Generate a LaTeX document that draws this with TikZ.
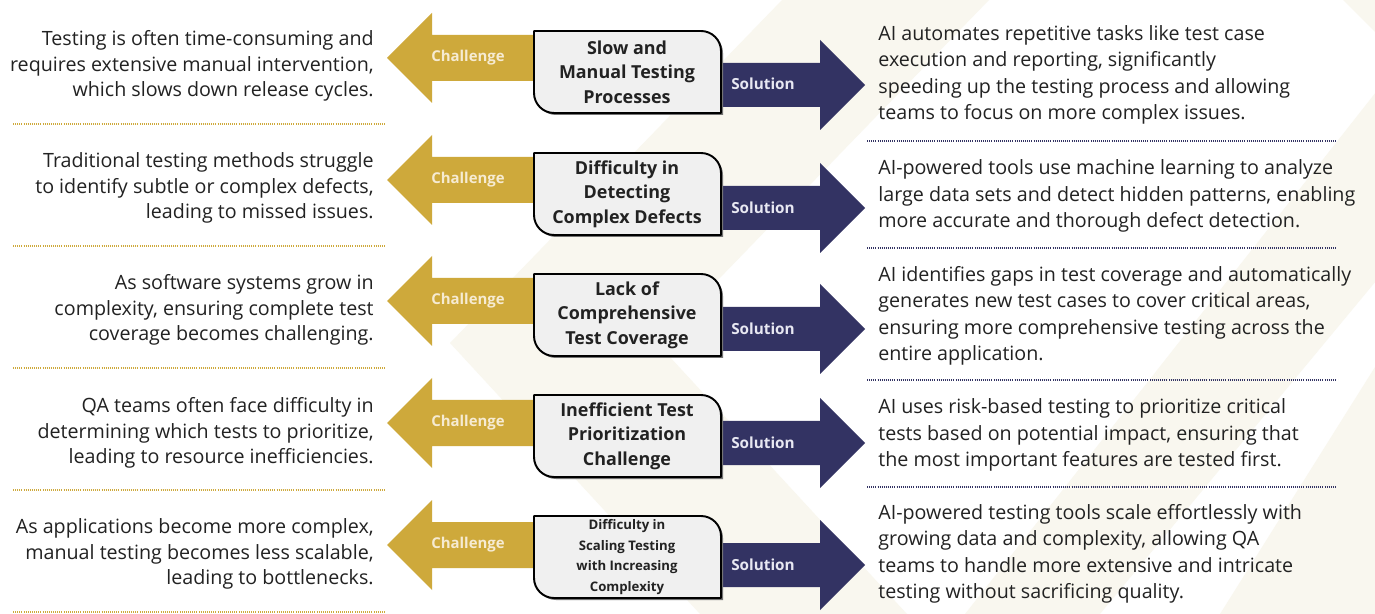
\documentclass[tikz,border=0pt]{standalone}
\usepackage{fontspec}
\setmainfont{Open Sans}
\usetikzlibrary{positioning}
\definecolor{gold}{HTML}{CEA93B}
\definecolor{navy}{HTML}{333363}
\definecolor{cream}{HTML}{F9F7EF}
\definecolor{ink}{HTML}{222222}
\definecolor{boxfill}{HTML}{F0F0F0}
\definecolor{chaltext}{HTML}{F6EBD2}
\definecolor{soltext}{HTML}{E8E8F2}

\begin{document}
\begin{tikzpicture}[x=0.02cm,y=-0.02cm]
\tikzstyle{chal}=[fill=gold]
\tikzstyle{sol}=[fill=navy]
\tikzstyle{qbox}=[draw=black,fill=boxfill,line width=1.1pt,line join=round]
\tikzstyle{qshadow}=[fill=black!55]
\tikzstyle{qtext}=[align=center,inner sep=0pt,text=ink,font=\bfseries\fontsize{10.2}{14}\selectfont]
\tikzstyle{lefttext}=[anchor=east,align=right,inner sep=0pt,text=ink,font=\fontsize{11.2}{14.6}\selectfont]
\tikzstyle{righttext}=[anchor=west,align=left,inner sep=0pt,text=ink,font=\fontsize{11.2}{15.1}\selectfont]
\tikzstyle{challabel}=[text=chaltext,inner sep=0pt,font=\bfseries\fontsize{8.5}{10}\selectfont]
\tikzstyle{sollabel}=[text=soltext,inner sep=0pt,font=\bfseries\fontsize{8.7}{10}\selectfont]
\tikzstyle{golddots}=[draw=gold,line width=0.7pt,dash pattern=on 0.5pt off 0.7pt]
\tikzstyle{navydots}=[draw=navy,line width=0.7pt,dash pattern=on 0.5pt off 0.7pt]

\useasboundingbox (0,0) rectangle (1375,614);
\fill[white] (0,0) rectangle (1375,614);
\begin{scope}
\clip (0,0) rectangle (1375,614);
\fill[cream] (782,0) -- (989,0) -- (657,343) -- (907,614) -- (700,614) -- (450,343) -- cycle;
\fill[cream] (1343,0) -- (1500,0) -- (1560,59) -- (1100,614) -- (965,614) -- (1402,59) -- cycle;
\fill[cream] (1375,367) -- (1375,614) -- (1220,614) -- cycle;
\end{scope}

\fill[chal,shift={(0,58)}] (387,0) -- (432,-45) -- (432,-23) -- (560,-23) -- (560,23) -- (432,23) -- (432,45) -- cycle;
\fill[chal,shift={(0,180)}] (387,0) -- (432,-45) -- (432,-23) -- (560,-23) -- (560,23) -- (432,23) -- (432,45) -- cycle;
\fill[chal,shift={(0,301)}] (387,0) -- (432,-45) -- (432,-23) -- (560,-23) -- (560,23) -- (432,23) -- (432,45) -- cycle;
\fill[chal,shift={(0,423)}] (387,0) -- (432,-45) -- (432,-23) -- (560,-23) -- (560,23) -- (432,23) -- (432,45) -- cycle;
\fill[chal,shift={(0,545)}] (387,0) -- (432,-45) -- (432,-23) -- (560,-23) -- (560,23) -- (432,23) -- (432,45) -- cycle;

\fill[sol,shift={(0,85)}] (700,-22) -- (820,-22) -- (820,-45) -- (865,0) -- (820,45) -- (820,22) -- (700,22) -- cycle;
\fill[sol,shift={(0,208)}] (700,-22) -- (820,-22) -- (820,-45) -- (865,0) -- (820,45) -- (820,22) -- (700,22) -- cycle;
\fill[sol,shift={(0,329)}] (700,-22) -- (820,-22) -- (820,-45) -- (865,0) -- (820,45) -- (820,22) -- (700,22) -- cycle;
\fill[sol,shift={(0,443)}] (700,-22) -- (820,-22) -- (820,-45) -- (865,0) -- (820,45) -- (820,22) -- (700,22) -- cycle;
\fill[sol,shift={(0,565)}] (700,-22) -- (820,-22) -- (820,-45) -- (865,0) -- (820,45) -- (820,22) -- (700,22) -- cycle;

\fill[qshadow,shift={(2,33)}] (534,0) -- (701,0) .. controls (712,0) and (721,9) .. (721,20) -- (721,82) -- (554,82) .. controls (543,82) and (534,73) .. (534,62) -- cycle;
\fill[qshadow,shift={(2,155)}] (534,0) -- (701,0) .. controls (712,0) and (721,9) .. (721,20) -- (721,82) -- (554,82) .. controls (543,82) and (534,73) .. (534,62) -- cycle;
\fill[qshadow,shift={(2,276)}] (534,0) -- (701,0) .. controls (712,0) and (721,9) .. (721,20) -- (721,82) -- (554,82) .. controls (543,82) and (534,73) .. (534,62) -- cycle;
\fill[qshadow,shift={(2,397)}] (534,0) -- (701,0) .. controls (712,0) and (721,9) .. (721,20) -- (721,82) -- (554,82) .. controls (543,82) and (534,73) .. (534,62) -- cycle;
\fill[qshadow,shift={(2,518)}] (534,0) -- (701,0) .. controls (712,0) and (721,9) .. (721,20) -- (721,82) -- (554,82) .. controls (543,82) and (534,73) .. (534,62) -- cycle;

\draw[qbox,shift={(0,31)}] (534,0) -- (701,0) .. controls (712,0) and (721,9) .. (721,20) -- (721,82) -- (554,82) .. controls (543,82) and (534,73) .. (534,62) -- cycle;
\draw[qbox,shift={(0,153)}] (534,0) -- (701,0) .. controls (712,0) and (721,9) .. (721,20) -- (721,82) -- (554,82) .. controls (543,82) and (534,73) .. (534,62) -- cycle;
\draw[qbox,shift={(0,274)}] (534,0) -- (701,0) .. controls (712,0) and (721,9) .. (721,20) -- (721,82) -- (554,82) .. controls (543,82) and (534,73) .. (534,62) -- cycle;
\draw[qbox,shift={(0,395)}] (534,0) -- (701,0) .. controls (712,0) and (721,9) .. (721,20) -- (721,82) -- (554,82) .. controls (543,82) and (534,73) .. (534,62) -- cycle;
\draw[qbox,shift={(0,516)}] (534,0) -- (701,0) .. controls (712,0) and (721,9) .. (721,20) -- (721,82) -- (554,82) .. controls (543,82) and (534,73) .. (534,62) -- cycle;

\node[challabel] (c1) at (468,58) {Challenge};
\node[challabel] (c2) at (468,180) {Challenge};
\node[challabel] (c3) at (468,301) {Challenge};
\node[challabel] (c4) at (468,423) {Challenge};
\node[challabel] (c5) at (468,545) {Challenge};
\node[sollabel] (s1) at (763,84) {Solution};
\node[sollabel] (s2) at (763,208) {Solution};
\node[sollabel] (s3) at (763,329) {Solution};
\node[sollabel] (s4) at (763,443) {Solution};
\node[sollabel] (s5) at (763,565) {Solution};

\node[qtext] (b1) at (627,72) {Slow and\\Manual Testing\\Processes};
\node[qtext] (b2) at (627,194) {Difficulty in\\Detecting\\Complex Defects};
\node[qtext] (b3) at (627,315) {Lack of\\Comprehensive\\Test Coverage};
\node[qtext] (b4) at (627,436) {Inefficient Test\\Prioritization\\Challenge};
\node[qtext,font=\bfseries\fontsize{7.5}{11.7}\selectfont] (b5) at (627,557) {Difficulty in\\Scaling Testing\\with Increasing\\Complexity};

\node[lefttext] (l1) at (374,66) {Testing is often time-consuming and\\requires extensive manual intervention,\\which slows down release cycles.};
\node[lefttext] (l2) at (374,188) {Traditional testing methods struggle\\to identify subtle or complex defects,\\leading to missed issues.};
\node[lefttext] (l3) at (374,310) {As software systems grow in\\complexity, ensuring complete test\\coverage becomes challenging.};
\node[lefttext] (l4) at (374,433) {QA teams often face difficulty in\\determining which tests to prioritize,\\leading to resource inefficiencies.};
\node[lefttext] (l5) at (374,554) {As applications become more complex,\\manual testing becomes less scalable,\\leading to bottlenecks.};

\node[righttext] (r1) at (878,75) {AI automates repetitive tasks like test case\\execution and reporting, significantly\\speeding up the testing process and allowing\\teams to focus on more complex issues.};
\node[righttext] (r2) at (878,196) {AI-powered tools use machine learning to analyze\\large data sets and detect hidden patterns, enabling\\more accurate and thorough defect detection.};
\node[righttext] (r3) at (878,316) {AI identifies gaps in test coverage and automatically\\generates new test cases to cover critical areas,\\ensuring more comprehensive testing across the\\entire application.};
\node[righttext] (r4) at (878,435) {AI uses risk-based testing to prioritize critical\\tests based on potential impact, ensuring that\\the most important features are tested first.};
\node[righttext] (r5) at (878,554) {AI-powered testing tools scale effortlessly with\\growing data and complexity, allowing QA\\teams to handle more extensive and intricate\\testing without sacrificing quality.};

\path[golddots] (13,124) -- (386,124);
\path[golddots] (13,246) -- (386,246);
\path[golddots] (13,368) -- (386,368);
\path[golddots] (13,490) -- (386,490);
\path[golddots] (13,612) -- (386,612);
\path[navydots] (867,141) -- (1337,141);
\path[navydots] (867,248) -- (1337,248);
\path[navydots] (867,380) -- (1337,380);
\path[navydots] (867,487) -- (1337,487);

\end{tikzpicture}
\end{document}
